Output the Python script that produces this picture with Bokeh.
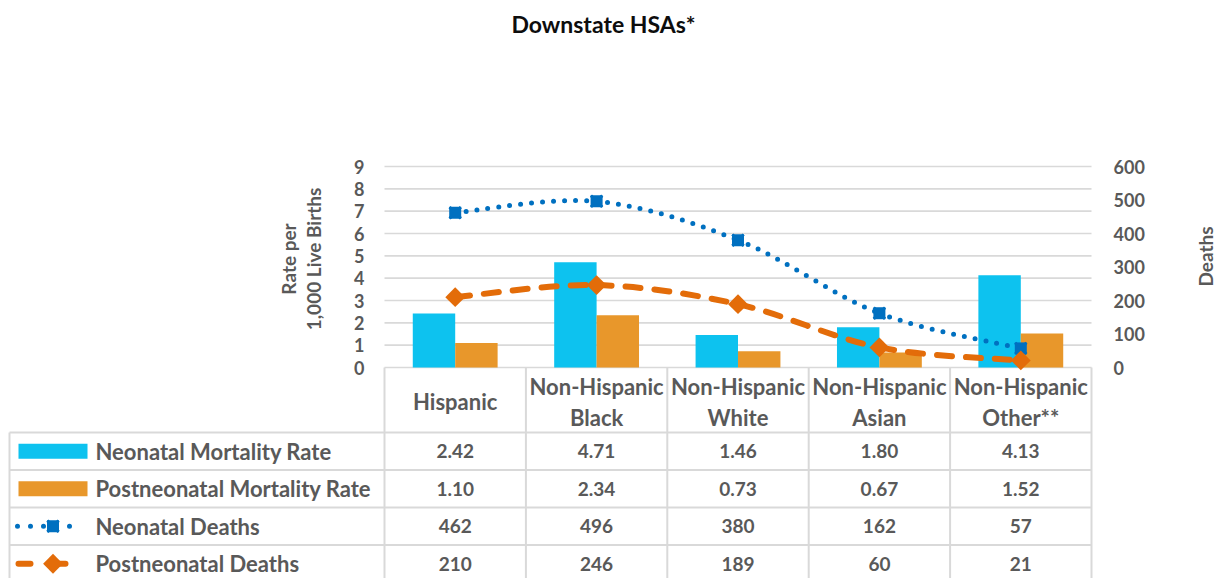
import math
from bokeh.plotting import figure
from bokeh.models import Range1d
from bokeh.embed import file_html
from bokeh.resources import INLINE
from bokeh.core.properties import value

# ---------------- data ----------------
categories = ["Hispanic", "Non-Hispanic\nBlack", "Non-Hispanic\nWhite",
              "Non-Hispanic\nAsian", "Non-Hispanic\nOther**"]
neonatal_rate = [2.42, 4.71, 1.46, 1.80, 4.13]
postneonatal_rate = [1.10, 2.34, 0.73, 0.67, 1.52]
neonatal_deaths = [462, 496, 380, 162, 57]
postneonatal_deaths = [210, 246, 189, 60, 21]
series_names = ["Neonatal Mortality Rate", "Postneonatal Mortality Rate",
                "Neonatal Deaths", "Postneonatal Deaths"]
left_ticks = [0, 1, 2, 3, 4, 5, 6, 7, 8, 9]
right_ticks = [0, 100, 200, 300, 400, 500, 600]
title_text = "Downstate HSAs*"
left_title = ["Rate per", "1,000 Live Births"]
right_title = "Deaths"

# ---------------- style ----------------
CYAN = "#0DC2EF"
ORANGE_BAR = "#E8972B"
BLUE = "#0070C0"
ORANGE_LINE = "#E36C09"
GRID = "#D9D9D9"
TXT = "#595959"
FONT = value("Lato")

# ---------------- geometry (screen pixels of the reference layout) ----------------
W, H = 1218, 578
OFF = 0                 # measured page offset
U = 141.4               # px per category column
X0S = 384               # screen x of first column boundary
ZS = 367                # screen y of value zero
PX_RATE = 201 / 9       # px per rate unit
PX_DEATH = 201 / 600    # px per death
ROW_TOP = 432           # screen y of the first table body row
ROW_H = 37.5

n = len(categories)
p = figure(width=W, height=H,
           x_range=Range1d((OFF - X0S) / U, (OFF + W - X0S) / U),
           y_range=Range1d((ZS - (OFF + H)) / PX_RATE, (ZS - OFF) / PX_RATE),
           min_border=0, toolbar_location=None, output_backend="svg",
           x_axis_location=None, y_axis_location=None)
p.extra_y_ranges = {
    "deaths": Range1d((ZS - (OFF + H)) / PX_DEATH, (ZS - OFF) / PX_DEATH),
    "rows": Range1d((OFF + H - ROW_TOP) / ROW_H, (OFF - ROW_TOP) / ROW_H),
}
p.outline_line_color = None
p.xgrid.visible = False
p.ygrid.visible = False

centers = [i + 0.5 for i in range(n)]
bounds = list(range(n + 1))
nrows = len(series_names)
HEAD_TOP = (ZS - ROW_TOP) / ROW_H          # header row top in row units (negative)
LEG_LEFT = (9 - X0S) / U

# ---- gridlines (left value scale) ----
p.segment(x0=[0] * len(left_ticks), x1=[n] * len(left_ticks), y0=left_ticks, y1=left_ticks,
          line_color=GRID, line_width=1.6)

# ---- left and right axis tick labels ----
p.text(x=[-20 / U] * len(left_ticks), y=left_ticks, text=[str(t) for t in left_ticks],
       text_align="right", text_baseline="middle", text_font=FONT, text_font_style="bold",
       text_font_size="18px", text_color=TXT)
p.text(x=[n + 22 / U] * len(right_ticks), y=right_ticks, y_range_name="deaths",
       text=[str(t) for t in right_ticks],
       text_align="left", text_baseline="middle", text_font=FONT, text_font_style="bold",
       text_font_size="18px", text_color=TXT)

# ---- axis titles and chart title ----
AX_MID = (ZS - 258.5) / PX_RATE
p.text(x=[(287.5 - X0S) / U, (312.5 - X0S) / U], y=[AX_MID, AX_MID], text=left_title,
       angle=math.pi / 2, text_align="center", text_baseline="middle", text_font=FONT,
       text_font_style="bold", text_font_size="19px", text_color=TXT)
p.text(x=[(1205 - X0S) / U], y=[(ZS - 256) / PX_RATE], text=[right_title],
       angle=math.pi / 2, text_align="center", text_baseline="middle", text_font=FONT,
       text_font_style="bold", text_font_size="19px", text_color=TXT)
p.text(x=[(603 - X0S) / U], y=[(ZS - 23) / PX_RATE], text=[title_text],
       text_align="center", text_baseline="middle", text_font=FONT,
       text_font_style="bold", text_font_size="23px", text_color="#0D0D0D")

# ---- table lines ----
p.segment(x0=bounds, x1=bounds, y0=[HEAD_TOP] * len(bounds), y1=[nrows + 1] * len(bounds),
          y_range_name="rows", line_color=GRID, line_width=2)
p.segment(x0=[LEG_LEFT], x1=[LEG_LEFT], y0=[0], y1=[nrows + 1],
          y_range_name="rows", line_color=GRID, line_width=2)
p.segment(x0=[LEG_LEFT] * nrows, x1=[n] * nrows, y0=list(range(nrows)), y1=list(range(nrows)),
          y_range_name="rows", line_color=GRID, line_width=2)

# ---- header (category names) ----
p.text(x=centers, y=[HEAD_TOP / 2 + 0.05] * n, y_range_name="rows", text=categories,
       text_align="center", text_baseline="middle", text_font=FONT, text_font_style="bold",
       text_font_size="22px", text_color=TXT, text_line_height=1.15)

# ---- bars ----
BW = 0.3
p.vbar(x=[c - BW / 2 for c in centers], top=neonatal_rate, width=BW, bottom=0,
       fill_color=CYAN, line_color=None)
p.vbar(x=[c + BW / 2 for c in centers], top=postneonatal_rate, width=BW, bottom=0,
       fill_color=ORANGE_BAR, line_color=None)

# ---- smoothed lines (bezier segments through the data points) ----
def smooth(xs, ys):
    pts = list(zip(xs, ys))
    out = {k: [] for k in ("x0", "y0", "x1", "y1", "cx0", "cy0", "cx1", "cy1")}
    m = len(pts)
    for i in range(m - 1):
        pa, pb, pc, pd = pts[max(i - 1, 0)], pts[i], pts[i + 1], pts[min(i + 2, m - 1)]
        out["x0"].append(pb[0]); out["y0"].append(pb[1])
        out["x1"].append(pc[0]); out["y1"].append(pc[1])
        out["cx0"].append(pb[0] + (pc[0] - pa[0]) / 6)
        out["cy0"].append(pb[1] + (pc[1] - pa[1]) / 6)
        out["cx1"].append(pc[0] - (pd[0] - pb[0]) / 6)
        out["cy1"].append(pc[1] - (pd[1] - pb[1]) / 6)
    return out

p.bezier(**smooth(centers, neonatal_deaths), y_range_name="deaths",
         line_color=BLUE, line_width=5, line_dash="0 11", line_cap="round")
p.bezier(**smooth(centers, postneonatal_deaths), y_range_name="deaths",
         line_color=ORANGE_LINE, line_width=6, line_dash="15 14", line_cap="round")

p.scatter(x=centers, y=neonatal_deaths, y_range_name="deaths", marker="square",
          size=12, fill_color=BLUE, line_color=None)
p.scatter(x=centers, y=neonatal_deaths, y_range_name="deaths", marker="x",
          size=16, line_color=BLUE, line_width=3)
p.scatter(x=centers, y=postneonatal_deaths, y_range_name="deaths", marker="square",
          angle=math.pi / 4, size=14, fill_color=ORANGE_LINE, line_color=None)

# ---- table body values ----
rows_vals = [["%.2f" % v for v in neonatal_rate],
             ["%.2f" % v for v in postneonatal_rate],
             [str(v) for v in neonatal_deaths],
             [str(v) for v in postneonatal_deaths]]
for r, vals in enumerate(rows_vals):
    p.text(x=centers, y=[r + 0.5] * n, y_range_name="rows", text=vals,
           text_align="center", text_baseline="middle", text_font=FONT,
           text_font_style="bold", text_font_size="19px", text_color=TXT)

# ---- legend column ----
p.text(x=[(95 - X0S) / U] * nrows, y=[r + 0.5 for r in range(nrows)], y_range_name="rows",
       text=series_names, text_align="left", text_baseline="middle", text_font=FONT,
       text_font_style="bold", text_font_size="22px", text_color=TXT)

KX0, KX1 = (18 - X0S) / U, (87 - X0S) / U
KC = (KX0 + KX1) / 2
KH = 7.5 / ROW_H
p.quad(left=[KX0], right=[KX1], top=[0.5 - KH], bottom=[0.5 + KH], y_range_name="rows",
       fill_color=CYAN, line_color=None)
p.quad(left=[KX0], right=[KX1], top=[1.5 - KH], bottom=[1.5 + KH], y_range_name="rows",
       fill_color=ORANGE_BAR, line_color=None)
p.line(x=[(17 - X0S) / U, (82 - X0S) / U], y=[2.5, 2.5], y_range_name="rows",
       line_color=BLUE, line_width=5, line_dash="0 13", line_cap="round")
p.scatter(x=[KC], y=[2.5], y_range_name="rows", marker="square", size=12,
          fill_color=BLUE, line_color=None)
p.scatter(x=[KC], y=[2.5], y_range_name="rows", marker="x", size=16,
          line_color=BLUE, line_width=3)
p.line(x=[(18 - X0S) / U, (85 - X0S) / U], y=[3.5, 3.5], y_range_name="rows",
       line_color=ORANGE_LINE, line_width=6, line_dash="12 23", line_cap="round")
p.scatter(x=[KC], y=[3.5], y_range_name="rows", marker="square", angle=math.pi / 4,
          size=14, fill_color=ORANGE_LINE, line_color=None)

open("out.html", "w").write(file_html(p, INLINE))
